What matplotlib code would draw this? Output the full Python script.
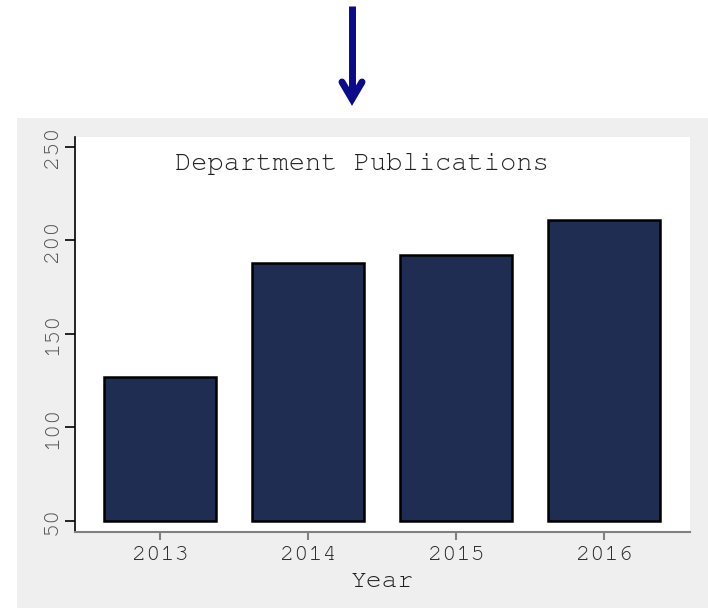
import matplotlib
matplotlib.use("Agg")
import matplotlib.pyplot as plt
from matplotlib.patches import Rectangle
from matplotlib import font_manager

years = ["2013", "2014", "2015", "2016"]
publications = [127, 188, 192, 211]
base = 50
yticks = [50, 100, 150, 200, 250]

available = {f.name for f in font_manager.fontManager.ttflist}
fams = [f for f in ['Courier New', 'Nimbus Mono PS', 'FreeMono', 'Courier', 'Liberation Mono']
        if f in available] or ['DejaVu Sans Mono']
plt.rcParams['font.family'] = fams + ['DejaVu Sans Mono']

W, H = 708, 608
fig = plt.figure(figsize=(W / 100, H / 100), dpi=100)
fig.patch.set_facecolor('white')

# gray panel
fig.patches.append(Rectangle((17 / W, 0), 1, (H - 118) / H, transform=fig.transFigure,
                             facecolor='#efefef', edgecolor='none', zorder=-10))

# arrow
arrow_ax = fig.add_axes([0, 0, 1, 1], facecolor='none', zorder=-5)
arrow_ax.set_xlim(0, W)
arrow_ax.set_ylim(H, 0)
arrow_ax.axis('off')
arrow_ax.plot([352, 352], [6, 97], color='#0a0a8a', lw=5, solid_capstyle='butt')
arrow_ax.plot([342, 352, 362], [82, 99, 82], color='#0a0a8a', lw=5,
              solid_joinstyle='miter', solid_capstyle='round')

ax = fig.add_axes([75 / W, 1 - 532 / H, (690 - 75) / W, (532 - 137) / H], zorder=1)
ax.set_facecolor('white')
x = range(len(years))
ax.bar(x, [v - base for v in publications], bottom=base, width=0.76,
       color='#1f2d52', edgecolor='black', linewidth=1.8, zorder=2)

ax.set_xlim(-0.575, 3.58)
ax.set_ylim(44.1, 255.3)
ax.set_yticks(yticks)
ax.set_yticklabels([str(t) for t in yticks], rotation=90, va='center',
                   fontsize=17, color='#555555')
ax.set_xticks(list(x))
ax.set_xticklabels(years, fontsize=17, color='#2a2a2a')

for s in ['top', 'right']:
    ax.spines[s].set_visible(False)
ax.spines['left'].set_color('black')
ax.spines['left'].set_linewidth(1.2)
ax.spines['bottom'].set_color('#808080')
ax.spines['bottom'].set_linewidth(1.5)
ax.tick_params(axis='y', length=7, width=1.2, color='black', pad=3)
ax.tick_params(axis='x', length=6, width=1.5, color='#808080', pad=4)

ax.text(0.163, 0.932, 'Department Publications', transform=ax.transAxes,
        ha='left', va='center', fontsize=19.5, color='#222222')
ax.set_xlabel('Year', fontsize=19, color='#222222', labelpad=6)

fig.savefig('out.png', dpi=100)
